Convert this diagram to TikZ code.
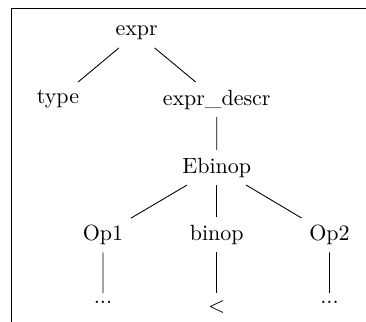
\documentclass[tikz,border=0pt]{standalone}
\usepackage{amsmath,amssymb}
\usepackage{tikz}
\usetikzlibrary{positioning}
\tikzset{tnode/.style={anchor=north}}

\begin{document}
\begin{tikzpicture}
    \useasboundingbox (0,0) rectangle (5.847,-5.144);
    \coordinate (fb) at (0.187,-5.144);
    \coordinate (fc) at (0.187,-0.133);
    \coordinate (fr) at (5.847,-0.133);
    \draw (fb) -- (fc) -- (fr);

    \node[tnode] at (2.184,-0.291) (expr) {expr};
    \node[tnode] at (0.927,-1.310) (type) {type};
    \node[tnode] at (3.462,-1.310) (descr) {expr\_descr};
    \node[tnode] at (3.462,-2.396) (ebinop) {Ebinop};
    \node[tnode] at (1.645,-3.467) (op1) {Op1};
    \node[tnode] at (3.462,-3.467) (binop) {binop};
    \node[tnode] at (5.264,-3.467) (op2) {Op2};
    \node[tnode] at (1.645,-4.681) (d1) {...};
    \node[tnode] at (3.462,-4.681) (lt) {$<$};
    \node[tnode] at (5.264,-4.681) (d2) {...};
    \draw (expr) -- (type);
    \draw (expr) -- (descr) -- (ebinop);
    \draw (ebinop) -- (op1) -- (d1);
    \draw (ebinop) -- (binop) -- (lt);
    \draw (ebinop) -- (op2) -- (d2);
\end{tikzpicture}
\end{document}
